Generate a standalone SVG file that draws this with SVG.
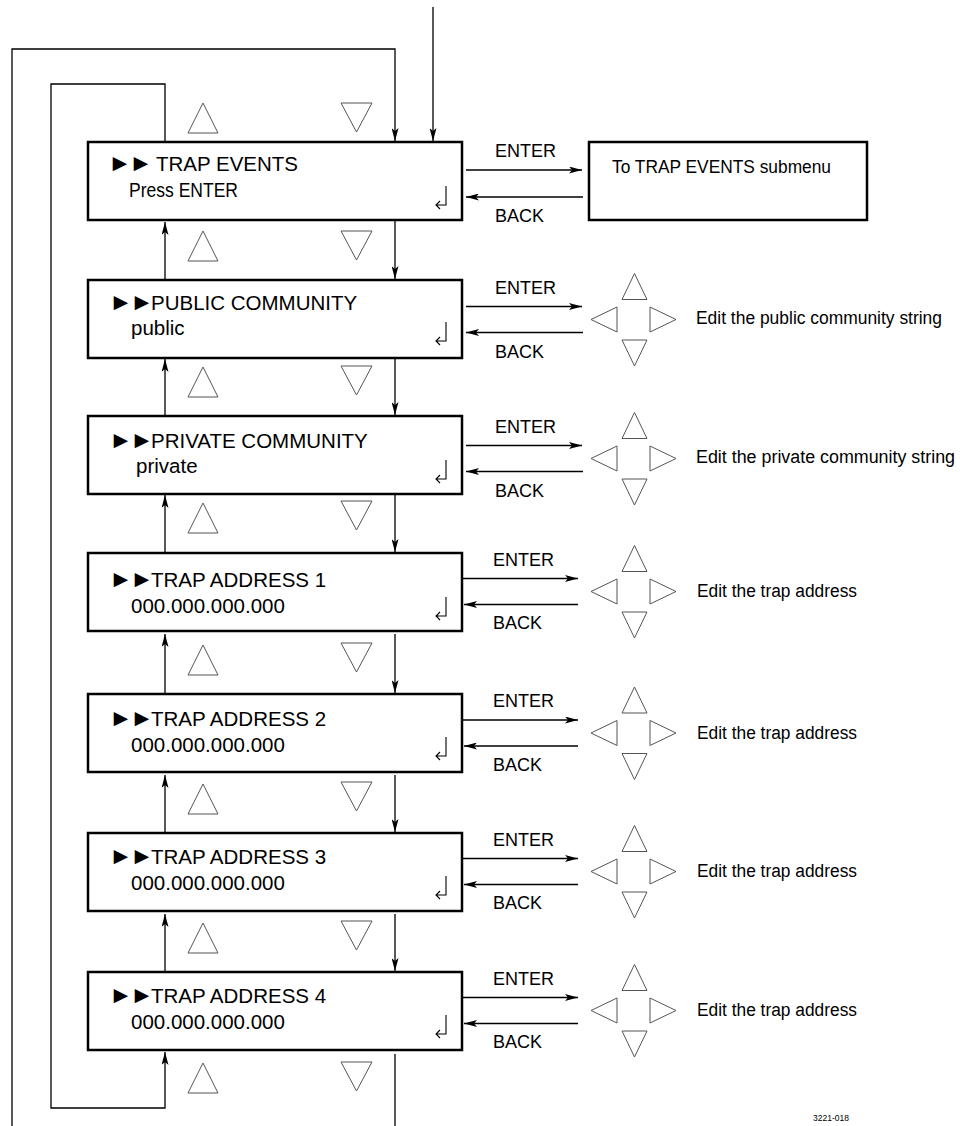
<svg xmlns="http://www.w3.org/2000/svg" width="960" height="1126" viewBox="0 0 960 1126">
<style>
.box{fill:#fff;stroke:#000;stroke-width:2.5}
.ln{fill:none;stroke:#000;stroke-width:1.3}
.tri{fill:#fff;stroke:#555;stroke-width:1}
.ek{fill:none;stroke:#000;stroke-width:1.1}
.t1{font-family:"Liberation Sans",Arial,sans-serif;font-size:20.5px;fill:#000}
.t2{font-family:"Liberation Sans",Arial,sans-serif;font-size:20.5px;fill:#000}
.ptr{font-family:"Liberation Sans","DejaVu Sans",sans-serif;font-size:24px}
.lbl{font-family:"Liberation Sans",Arial,sans-serif;font-size:18px;fill:#000}
.sm{font-family:"Liberation Sans",Arial,sans-serif;font-size:8.5px;fill:#000}
</style>
<defs>
<marker id="ah" viewBox="0 0 13 7" refX="13" refY="3.5" markerWidth="13" markerHeight="7" orient="auto" markerUnits="userSpaceOnUse"><path d="M0,0 L13,3.5 L0,7 L3,3.5 z" fill="#000"/></marker>
<polygon id="up" points="15,0 30,30 0,30" class="tri"/>
<polygon id="dn" points="0,0 31,0 15.5,29" class="tri"/>
<path id="ek" class="ek" d="M11,0 V19 H1 M5,15 L1,19 L5,23"/>
<g id="pad">
<polygon points="12.5,-46 25,-20 0,-20" class="tri" transform="translate(31,0)"/>
<polygon points="0,0 26,-12.5 26,12.5" class="tri"/>
<polygon points="0,-12.5 26,0 0,12.5" class="tri" transform="translate(59,0)"/>
<polygon points="0,20.5 25,20.5 12.5,46.5" class="tri" transform="translate(31,0)"/>
</g>
</defs>
<rect width="960" height="1126" fill="#fff"/>

<g id="connectors">
<path class="ln" d="M433,7 V141" marker-end="url(#ah)"/>
<path class="ln" d="M12,1126 V49 H395 V141" marker-end="url(#ah)"/>
<path class="ln" d="M165,142 V84 H51 V1108 H165 V1052" marker-end="url(#ah)"/>
<path class="ln" d="M395,1054 V1126"/>
<path class="ln" d="M395,221 V279" marker-end="url(#ah)"/>
<path class="ln" d="M165,280 V222" marker-end="url(#ah)"/>
<path class="ln" d="M395,359 V415" marker-end="url(#ah)"/>
<path class="ln" d="M165,416 V359" marker-end="url(#ah)"/>
<path class="ln" d="M395,495 V552" marker-end="url(#ah)"/>
<path class="ln" d="M165,553 V495" marker-end="url(#ah)"/>
<path class="ln" d="M395,634 V693" marker-end="url(#ah)"/>
<path class="ln" d="M165,694 V634" marker-end="url(#ah)"/>
<path class="ln" d="M395,775 V832" marker-end="url(#ah)"/>
<path class="ln" d="M165,833 V775" marker-end="url(#ah)"/>
<path class="ln" d="M395,914 V971" marker-end="url(#ah)"/>
<path class="ln" d="M165,972 V914" marker-end="url(#ah)"/>
<path class="ln" d="M466,170 H582" marker-end="url(#ah)"/>
<path class="ln" d="M583,197 H466" marker-end="url(#ah)"/>
<path class="ln" d="M466,306.5 H582" marker-end="url(#ah)"/>
<path class="ln" d="M583,332.5 H466" marker-end="url(#ah)"/>
<path class="ln" d="M466,445.5 H582" marker-end="url(#ah)"/>
<path class="ln" d="M583,471.5 H466" marker-end="url(#ah)"/>
<path class="ln" d="M463,578.5 H578" marker-end="url(#ah)"/>
<path class="ln" d="M578,604.5 H464" marker-end="url(#ah)"/>
<path class="ln" d="M463,720 H578" marker-end="url(#ah)"/>
<path class="ln" d="M578,746 H464" marker-end="url(#ah)"/>
<path class="ln" d="M463,858.5 H578" marker-end="url(#ah)"/>
<path class="ln" d="M578,884.5 H464" marker-end="url(#ah)"/>
<path class="ln" d="M463,997.5 H578" marker-end="url(#ah)"/>
<path class="ln" d="M578,1023.5 H464" marker-end="url(#ah)"/>
</g>

<g id="nav-triangles">
<use href="#up" x="188" y="103"/><use href="#dn" x="341" y="103"/>
<use href="#up" x="188" y="231"/><use href="#dn" x="341" y="231"/>
<use href="#up" x="188" y="367"/><use href="#dn" x="341" y="366"/>
<use href="#up" x="188" y="503"/><use href="#dn" x="341" y="501"/>
<use href="#up" x="188" y="645"/><use href="#dn" x="341" y="643"/>
<use href="#up" x="188" y="784"/><use href="#dn" x="341" y="782"/>
<use href="#up" x="188" y="923"/><use href="#dn" x="341" y="921"/>
<use href="#up" x="188" y="1063"/><use href="#dn" x="341" y="1062"/>
</g>

<g id="trap-events">
<rect class="box" x="88" y="142" width="374" height="78"/>
<text class="t1" y="171"><tspan class="ptr" x="108 129">►►</tspan><tspan x="156">TRAP EVENTS</tspan></text>
<text class="t2" x="129" y="197" font-size="19.5" textLength="109" lengthAdjust="spacingAndGlyphs">Press ENTER</text>
<use href="#ek" x="435" y="186"/>
<text class="lbl" x="495" y="157">ENTER</text>
<text class="lbl" x="495" y="222">BACK</text>
</g>
<g id="trap-events-submenu">
<rect class="box" x="589" y="142" width="278" height="78"/>
<text class="lbl" x="612" y="173" textLength="219" lengthAdjust="spacingAndGlyphs">To TRAP EVENTS submenu</text>
</g>

<g id="public-community">
<rect class="box" x="88" y="280" width="374" height="78"/>
<text class="t1" y="310"><tspan class="ptr" x="109 130">►►</tspan><tspan x="151">PUBLIC COMMUNITY</tspan></text>
<text class="t2" x="131" y="335">public</text>
<use href="#ek" x="435" y="322"/>
<text class="lbl" x="495" y="293.5">ENTER</text>
<text class="lbl" x="495" y="358">BACK</text>
<use href="#pad" x="591" y="319.5"/>
<text class="lbl" x="696" y="324" textLength="246" lengthAdjust="spacingAndGlyphs">Edit the public community string</text>
</g>

<g id="private-community">
<rect class="box" x="88" y="416" width="374" height="78"/>
<text class="t1" y="448"><tspan class="ptr" x="109 130">►►</tspan><tspan x="151">PRIVATE COMMUNITY</tspan></text>
<text class="t2" x="136" y="473">private</text>
<use href="#ek" x="435" y="460"/>
<text class="lbl" x="495" y="432.5">ENTER</text>
<text class="lbl" x="495" y="497">BACK</text>
<use href="#pad" x="591" y="458.5"/>
<text class="lbl" x="696" y="463" textLength="259" lengthAdjust="spacingAndGlyphs">Edit the private community string</text>
</g>

<g id="trap-address-1">
<rect class="box" x="88" y="553" width="374" height="78"/>
<text class="t1" y="586.5"><tspan class="ptr" x="109 130">►►</tspan><tspan x="151">TRAP ADDRESS 1</tspan></text>
<text class="t2" x="131" y="612.5">000.000.000.000</text>
<use href="#ek" x="435" y="597"/>
<text class="lbl" x="493" y="565.5">ENTER</text>
<text class="lbl" x="493" y="629">BACK</text>
<use href="#pad" x="591" y="591.5"/>
<text class="lbl" x="697" y="597" textLength="160" lengthAdjust="spacingAndGlyphs">Edit the trap address</text>
</g>

<g id="trap-address-2">
<rect class="box" x="88" y="694" width="374" height="78"/>
<text class="t1" y="725.5"><tspan class="ptr" x="109 130">►►</tspan><tspan x="151">TRAP ADDRESS 2</tspan></text>
<text class="t2" x="131" y="751.5">000.000.000.000</text>
<use href="#ek" x="435" y="737"/>
<text class="lbl" x="493" y="707">ENTER</text>
<text class="lbl" x="493" y="770.5">BACK</text>
<use href="#pad" x="591" y="733"/>
<text class="lbl" x="697" y="738.5" textLength="160" lengthAdjust="spacingAndGlyphs">Edit the trap address</text>
</g>

<g id="trap-address-3">
<rect class="box" x="88" y="833" width="374" height="78"/>
<text class="t1" y="864"><tspan class="ptr" x="109 130">►►</tspan><tspan x="151">TRAP ADDRESS 3</tspan></text>
<text class="t2" x="131" y="890">000.000.000.000</text>
<use href="#ek" x="435" y="876"/>
<text class="lbl" x="493" y="845.5">ENTER</text>
<text class="lbl" x="493" y="909">BACK</text>
<use href="#pad" x="591" y="871.5"/>
<text class="lbl" x="697" y="877" textLength="160" lengthAdjust="spacingAndGlyphs">Edit the trap address</text>
</g>

<g id="trap-address-4">
<rect class="box" x="88" y="972" width="374" height="78"/>
<text class="t1" y="1003"><tspan class="ptr" x="109 130">►►</tspan><tspan x="151">TRAP ADDRESS 4</tspan></text>
<text class="t2" x="131" y="1028.5">000.000.000.000</text>
<use href="#ek" x="435" y="1015"/>
<text class="lbl" x="493" y="984.5">ENTER</text>
<text class="lbl" x="493" y="1048">BACK</text>
<use href="#pad" x="591" y="1010.5"/>
<text class="lbl" x="697" y="1016" textLength="160" lengthAdjust="spacingAndGlyphs">Edit the trap address</text>
</g>

<text class="sm" x="813" y="1121">3221-018</text>
</svg>
